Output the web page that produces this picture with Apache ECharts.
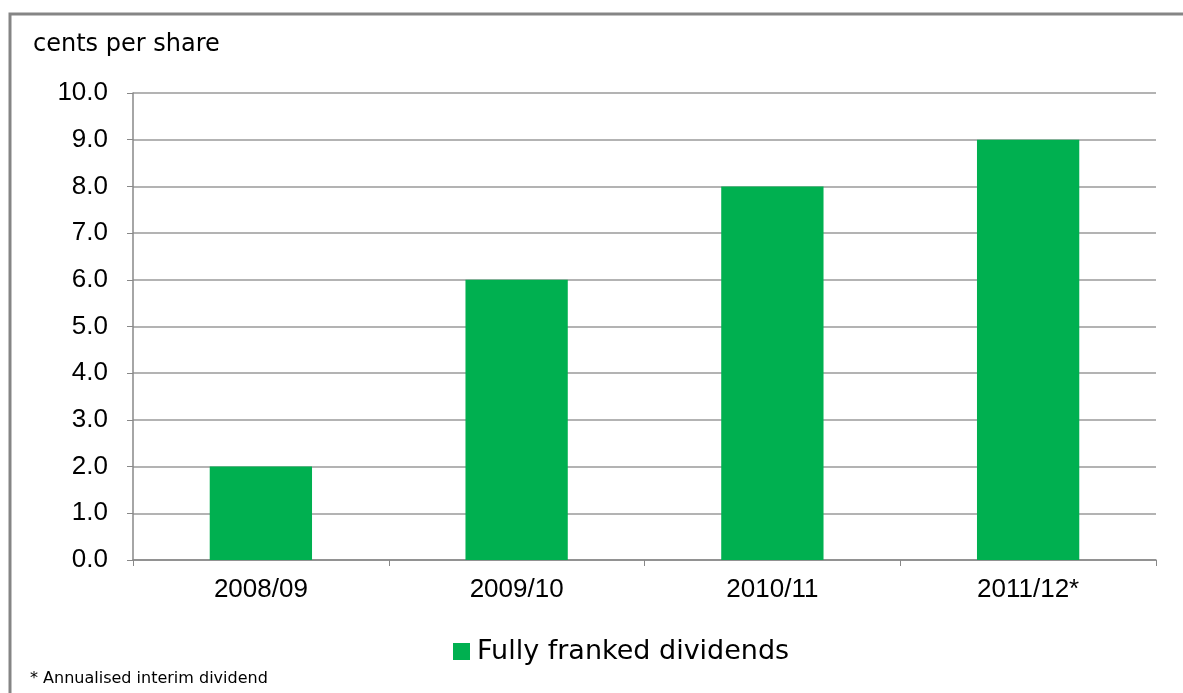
<!DOCTYPE html>
<html>
<head>
<meta charset="utf-8">
<style>
  html, body { margin: 0; padding: 0; background: #fff; }
  #chart { width: 1183px; height: 693px; }
</style>
<script src="https://cdn.jsdelivr.net/npm/echarts@6/dist/echarts.min.js"></script>
</head>
<body>
<div id="chart"></div>
<script>
// Dividend per share by financial year
const years = ["2008/09", "2009/10", "2010/11", "2011/12*"];
const dividends = [2.0, 6.0, 8.0, 9.0];
const seriesName = "Fully franked dividends";

const chart = echarts.init(document.getElementById("chart"));

chart.setOption({
  animation: false,
  grid: { left: 133, right: 27, top: 93, bottom: 133 },
  graphic: [
    {
      // outer frame: only top and left edges are visible
      type: "polyline",
      shape: { points: [[10, 800], [10, 14], [1300, 14]] },
      style: { fill: "none", stroke: "#858585", lineWidth: 3 }
    },
    {
      type: "text",
      left: 33, top: 33,
      style: { text: "cents per share", font: "24px 'DejaVu Sans'", fill: "#000" }
    },
    {
      type: "text",
      left: 30, top: 671,
      style: { text: "* Annualised interim dividend", font: "16px 'DejaVu Sans'", fill: "#000" }
    }
  ],
  legend: {
    left: 453, top: 638, padding: 0,
    itemWidth: 17, itemHeight: 17,
    icon: "rect",
    textStyle: { fontFamily: "DejaVu Sans", fontSize: 27, color: "#000", padding: [0, 0, 0, 2] },
    data: [seriesName]
  },
  xAxis: {
    type: "category",
    data: years,
    axisLine: { lineStyle: { color: "#888", width: 1.5 } },
    axisTick: { show: true, length: 6, lineStyle: { color: "#888" } },
    axisLabel: { fontFamily: "Liberation Sans", fontSize: 26, color: "#000", margin: 17 }
  },
  yAxis: {
    type: "value",
    min: 0, max: 10, interval: 1,
    axisLine: { show: true, lineStyle: { color: "#888", width: 1.5 } },
    axisTick: { show: true, length: 6, lineStyle: { color: "#888" } },
    axisLabel: {
      fontFamily: "Liberation Sans", fontSize: 26, color: "#000", margin: 25,
      formatter: v => v.toFixed(1)
    },
    splitLine: { lineStyle: { color: "#9a9a9a", width: 1.5 } }
  },
  series: [
    {
      name: seriesName,
      type: "bar",
      data: dividends,
      barWidth: "40%",
      itemStyle: { color: "#00B050" }
    }
  ]
});
</script>
</body>
</html>
